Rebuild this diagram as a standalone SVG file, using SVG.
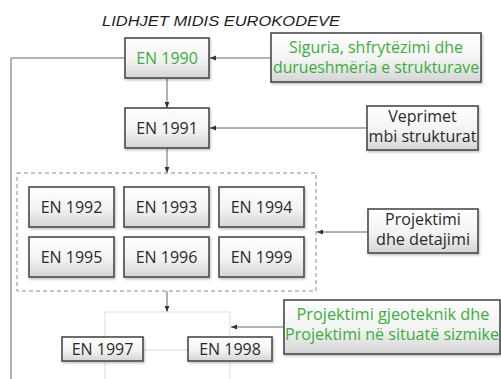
<svg xmlns="http://www.w3.org/2000/svg" width="501" height="379" viewBox="0 0 501 379">
  <defs>
    <linearGradient id="boxFill" x1="0" y1="0" x2="0" y2="1">
      <stop offset="0" stop-color="#ffffff"/>
      <stop offset="0.55" stop-color="#f3f3f3"/>
      <stop offset="1" stop-color="#d4d4d4"/>
    </linearGradient>
    <filter id="shadow" x="-10%" y="-10%" width="130%" height="140%">
      <feDropShadow dx="1" dy="1.5" stdDeviation="1" flood-color="#000" flood-opacity="0.25"/>
    </filter>
    <marker id="arrow" viewBox="0 0 10 10" refX="10" refY="5" markerWidth="6" markerHeight="6" orient="auto" markerUnits="userSpaceOnUse">
      <path d="M0,1 L10,5 L0,9 z" fill="#333"/>
    </marker>
  </defs>
  <style>
    .box { fill: url(#boxFill); stroke: #4a4a4a; stroke-width: 1.6; filter: url(#shadow); }
    .lbl { font-family: "Open Sans", "Lato", sans-serif; font-size: 16px; fill: #2a2a2a; text-anchor: middle; }
    .note { font-family: "Open Sans", "Lato", sans-serif; font-size: 16px; fill: #2a2a2a; text-anchor: middle; }
    .green { fill: #38b038; }
    .link { fill: none; stroke: #666; stroke-width: 1; }
    .arr { marker-end: url(#arrow); }
    .faint { fill: none; stroke: #dcdcdc; stroke-width: 1; }
    .group { fill: none; stroke: #888; stroke-width: 1; stroke-dasharray: 4 3; }
    .title { font-family: "Liberation Sans", Arial, sans-serif; font-style: italic; font-size: 15.5px; fill: #1e1e1e; }
  </style>

  <rect width="501" height="379" fill="#ffffff"/>

  <text class="title" x="102" y="26" textLength="238" lengthAdjust="spacingAndGlyphs">LIDHJET MIDIS EUROKODEVE</text>

  <!-- connectors -->
  <g id="connectors">
    <path class="link" d="M125,58 H11 V379"/>
    <path class="link arr" d="M271,58 H210"/>
    <path class="link arr" d="M167,78 V108"/>
    <path class="link arr" d="M367,128 H210"/>
    <path class="link arr" d="M167,148 V173"/>
    <path class="link arr" d="M368,232 H317"/>
    <path class="link arr" d="M167,291 V312"/>
    <path class="faint" d="M105,337 V312 H230 V337"/>
    <path class="faint" d="M143,350 H188"/>
    <path class="faint" d="M105,361 V379 M230,361 V379"/>
    <path class="link arr" d="M284,327 H231"/>
  </g>

  <!-- dashed grouping frame -->
  <rect id="design-group" class="group" x="17" y="173" width="299" height="118"/>

  <g id="en1990">
    <rect class="box" x="125" y="38" width="84" height="40"/>
    <text class="lbl green" x="167" y="63.5">EN 1990</text>
  </g>
  <g id="en1991">
    <rect class="box" x="125" y="108" width="84" height="40"/>
    <text class="lbl" x="167" y="133.5">EN 1991</text>
  </g>

  <g id="en1992">
    <rect class="box" x="29" y="187" width="85" height="40"/>
    <text class="lbl" x="71.5" y="212.5">EN 1992</text>
  </g>
  <g id="en1993">
    <rect class="box" x="124" y="187" width="85" height="40"/>
    <text class="lbl" x="166.5" y="212.5">EN 1993</text>
  </g>
  <g id="en1994">
    <rect class="box" x="219" y="187" width="85" height="40"/>
    <text class="lbl" x="261.5" y="212.5">EN 1994</text>
  </g>
  <g id="en1995">
    <rect class="box" x="29" y="237" width="85" height="40"/>
    <text class="lbl" x="71.5" y="262.5">EN 1995</text>
  </g>
  <g id="en1996">
    <rect class="box" x="124" y="237" width="85" height="40"/>
    <text class="lbl" x="166.5" y="262.5">EN 1996</text>
  </g>
  <g id="en1999">
    <rect class="box" x="219" y="237" width="85" height="40"/>
    <text class="lbl" x="261.5" y="262.5">EN 1999</text>
  </g>

  <g id="en1997">
    <rect class="box" x="62" y="337" width="81" height="24"/>
    <text class="lbl" x="102.5" y="355">EN 1997</text>
  </g>
  <g id="en1998">
    <rect class="box" x="188" y="337" width="84" height="24"/>
    <text class="lbl" x="230" y="355">EN 1998</text>
  </g>

  <g id="siguria">
    <rect class="box" x="271" y="33" width="210" height="49"/>
    <text class="note green" x="376" y="52.5" textLength="174" lengthAdjust="spacingAndGlyphs">Siguria, shfrytëzimi dhe</text>
    <text class="note green" x="376" y="72.5" textLength="206" lengthAdjust="spacingAndGlyphs">durueshmëria e strukturave</text>
  </g>

  <g id="veprimet">
    <rect class="box" x="367" y="106" width="111" height="44"/>
    <text class="note" x="422.5" y="122">Veprimet</text>
    <text class="note" x="422.5" y="142" textLength="108" lengthAdjust="spacingAndGlyphs">mbi strukturat</text>
  </g>

  <g id="projektimi">
    <rect class="box" x="368" y="209" width="110" height="44"/>
    <text class="note" x="423" y="225">Projektimi</text>
    <text class="note" x="423" y="245" textLength="94" lengthAdjust="spacingAndGlyphs">dhe detajimi</text>
  </g>

  <g id="gjeoteknik">
    <rect class="box" x="284" y="300" width="216" height="54"/>
    <text class="note green" x="393" y="320" textLength="193" lengthAdjust="spacingAndGlyphs">Projektimi gjeoteknik dhe</text>
    <text class="note green" x="392" y="340" textLength="214" lengthAdjust="spacingAndGlyphs">Projektimi në situatë sizmike</text>
  </g>
</svg>
